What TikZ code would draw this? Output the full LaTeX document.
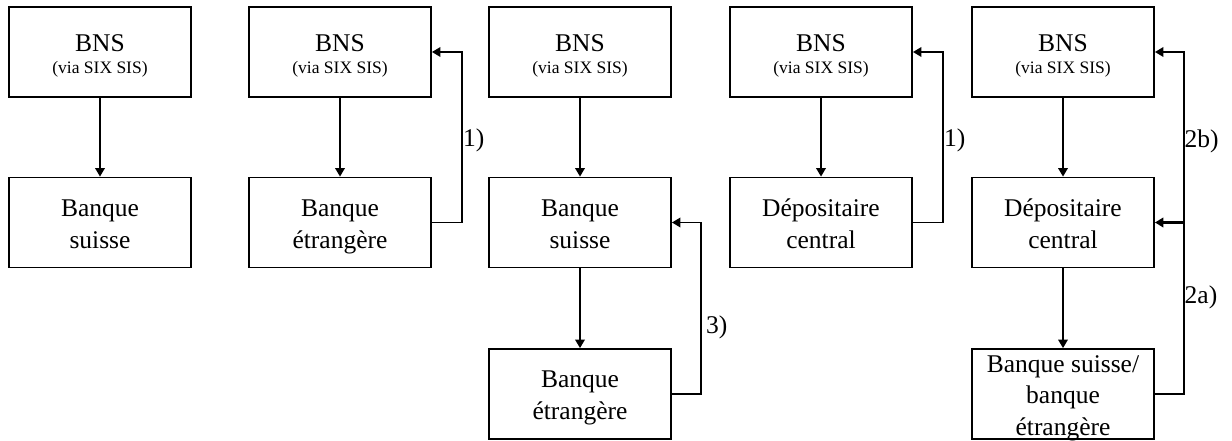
\documentclass[tikz,border=0pt]{standalone}
\usepackage{fontspec}
\setmainfont{Liberation Serif}
\usetikzlibrary{arrows.meta}
\newcommand\twolines[2]{\begin{tabular}[t]{@{}c@{}}#1\\#2\end{tabular}}
\newcommand\threelines[3]{\begin{tabular}[t]{@{}c@{}}#1\\#2\\#3\end{tabular}}
\newcommand\bnstext{\begin{tabular}[t]{@{}c@{}}BNS\\[-10pt]{\fontsize{17.5}{20}\selectfont(via SIX SIS)}\end{tabular}}
\begin{document}
\begin{tikzpicture}[x=1pt,y=-1pt,
  box/.style={draw, line width=1.8pt, minimum width=182pt, minimum height=90pt, inner sep=0pt},
  txt/.style={anchor=base, inner sep=0pt, font=\fontsize{25.5}{31.6}\selectfont},
  lbl/.style={anchor=base west, inner sep=0pt, font=\fontsize{25.5}{31.6}\selectfont},
  arr/.style={line width=1.8pt, -{Triangle[length=8.5pt,width=9.5pt]}}]
\useasboundingbox (0,0) rectangle (1232,441);
% column 1
\node[box] (a1) at (100,52) {};
\node[box] (a2) at (100,222.5) {};
\node[txt] (a1t) at (100,51.7) {\bnstext};
\node[txt] (a2t) at (100,216.7) {\twolines{Banque}{suisse}};
\draw[arr] (a1) -- (a2);
% column 2
\node[box] (b1) at (340,52) {};
\node[box] (b2) at (340,222.5) {};
\node[txt] (b1t) at (340,51.7) {\bnstext};
\node[txt] (b2t) at (340,216.7) {\twolines{Banque}{étrangère}};
\draw[arr] (b1) -- (b2);
\draw[arr] (b2.east) -- ++(30,0) |- (b1.east);
\node[lbl] (l1) at (463,147) {1)};
% column 3
\node[box] (c1) at (580,52) {};
\node[box] (c2) at (580,222.5) {};
\node[box] (c3) at (580,394) {};
\node[txt] (c1t) at (580,51.7) {\bnstext};
\node[txt] (c2t) at (580,216.7) {\twolines{Banque}{suisse}};
\node[txt] (c3t) at (580,387.7) {\twolines{Banque}{étrangère}};
\draw[arr] (c1) -- (c2);
\draw[arr] (c2) -- (c3);
\draw[arr] (c3.east) -- ++(29,0) |- (c2.east);
\node[lbl] (l3) at (706,333) {3)};
% column 4
\node[box] (d1) at (821,52) {};
\node[box] (d2) at (821,222.5) {};
\node[txt] (d1t) at (821,51.7) {\bnstext};
\node[txt] (d2t) at (821,216.7) {\twolines{Dépositaire}{central}};
\draw[arr] (d1) -- (d2);
\draw[arr] (d2.east) -- ++(30,0) |- (d1.east);
\node[lbl] (l4) at (944,147) {1)};
% column 5
\node[box] (e1) at (1063,52) {};
\node[box] (e2) at (1063,222.5) {};
\node[box] (e3) at (1063,394) {};
\node[txt] (e1t) at (1063,51.7) {\bnstext};
\node[txt] (e2t) at (1063,216.7) {\twolines{Dépositaire}{central}};
\node[txt] (e3t) at (1063,372) {\threelines{Banque suisse/}{banque}{étrangère}};
\draw[arr] (e1) -- (e2);
\draw[arr] (e2) -- (e3);
\draw[arr] (e3.east) -- ++(29,0) |- (e1.east);
\draw[arr, line width=2.8pt] (e2.east) ++(29,0) -- (e2.east);
\node[lbl] (l2b) at (1184.5,148) {2b)};
\node[lbl] (l2a) at (1184.5,303) {2a)};
\end{tikzpicture}
\end{document}
